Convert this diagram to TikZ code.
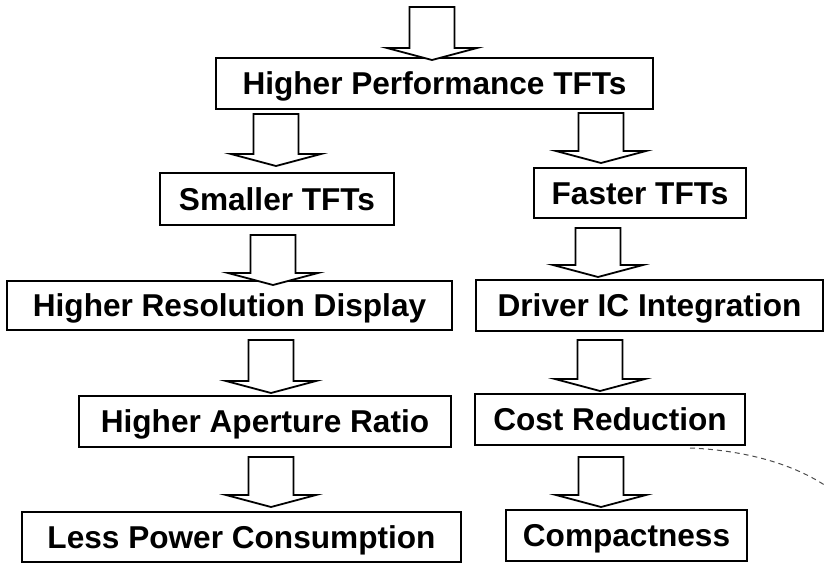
\documentclass[tikz,border=0pt]{standalone}
\usepackage{fontspec}
\setmainfont{Liberation Sans}
\begin{document}
\begin{tikzpicture}[x=1pt,y=-1pt,
  box/.style={draw=black,line width=2pt,inner sep=0pt,
    font=\fontsize{31.6}{36}\selectfont\bfseries,
    text height=22.5pt,text depth=0pt},
  barrowline/.style={draw=black,line width=1.8pt,line join=miter,fill=white}]
\useasboundingbox (0,0) rectangle (826,566);
% boxes
\node[box,minimum width=437pt,minimum height=51pt] (hpt) at (434.5,83.5) {Higher Performance TFTs};
\node[box,minimum width=234pt,minimum height=52pt] (small) at (277,199) {Smaller TFTs};
\node[box,minimum width=212pt,minimum height=50pt] (fast) at (640,193) {Faster TFTs};
\node[box,minimum width=445pt,minimum height=49pt] (hrd) at (229.5,305.5) {Higher Resolution Display};
\node[box,minimum width=347pt,minimum height=51pt] (dic) at (649.5,305.5) {Driver IC Integration};
\node[box,minimum width=372pt,minimum height=51pt] (har) at (265,421.5) {Higher Aperture Ratio};
\node[box,minimum width=270pt,minimum height=51pt] (cr) at (610,419.5) {Cost Reduction};
\node[box,minimum width=439pt,minimum height=50pt] (lpc) at (241.5,537) {Less Power Consumption};
\node[box,minimum width=241pt,minimum height=51pt] (comp) at (626.5,535.5) {Compactness};
% block arrows: #1 centre x, #2 top y, #3 tip y
\newcommand{\blockarr}[3]{%
  \draw[barrowline] (#1-22.5,#2) -- (#1+22.5,#2) -- (#1+22.5,#3-12)
    -- (#1+45,#3-12) -- (#1,#3) -- (#1-45,#3-12) -- (#1-22.5,#3-12) -- cycle;}
\blockarr{432}{7}{60}
\blockarr{276}{114}{166}
\blockarr{601}{113}{163}
\blockarr{273}{235}{285}
\blockarr{271}{340}{393}
\blockarr{271}{457}{507}
\blockarr{598}{228}{277}
\blockarr{600}{340}{391}
\blockarr{601}{457}{507}
% scan trace
\draw[black!70,line width=1pt,dash pattern=on 5pt off 4pt] (690,448) .. controls (740,450) and (790,462) .. (826,486);
\end{tikzpicture}
\end{document}
